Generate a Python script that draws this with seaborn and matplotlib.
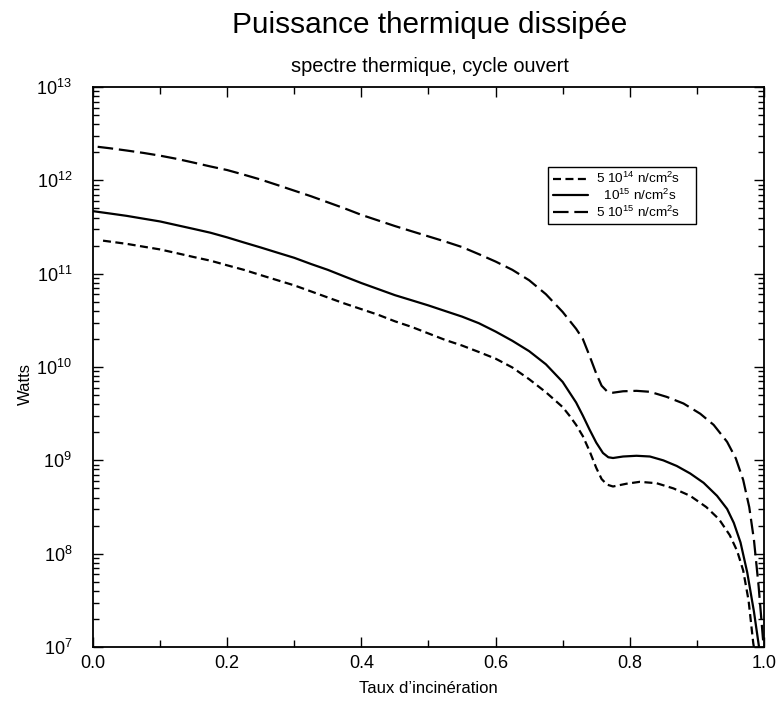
import pandas as pd
import matplotlib
matplotlib.use('Agg')
import matplotlib.pyplot as plt
import matplotlib.ticker as mticker
import seaborn as sns

# Data (Watts vs burn-up fraction)
x_5e14 = [0.015, 0.05, 0.075, 0.10, 0.125, 0.15, 0.175, 0.20, 0.225, 0.25,
          0.275, 0.30, 0.325, 0.35, 0.375, 0.40, 0.425, 0.45, 0.475, 0.50,
          0.525, 0.55, 0.575, 0.60, 0.625, 0.65, 0.675, 0.70, 0.71, 0.72,
          0.73, 0.74, 0.75, 0.758, 0.766, 0.775, 0.795, 0.815, 0.84, 0.865,
          0.89, 0.914, 0.933, 0.949, 0.96, 0.969, 0.977, 0.984, 0.986]
p_5e14 = [2.26e11, 2.09e11, 1.95e11, 1.82e11, 1.66e11, 1.51e11, 1.38e11,
          1.23e11, 1.10e11, 9.66e10, 8.51e10, 7.50e10, 6.46e10, 5.56e10,
          4.79e10, 4.17e10, 3.63e10, 3.09e10, 2.69e10, 2.29e10, 1.95e10,
          1.70e10, 1.45e10, 1.23e10, 9.89e9, 7.41e9, 5.37e9, 3.72e9, 3.02e9,
          2.40e9, 1.82e9, 1.26e9, 8.32e8, 6.31e8, 5.50e8, 5.25e8, 5.62e8,
          5.89e8, 5.69e8, 5.01e8, 4.17e8, 3.16e8, 2.34e8, 1.58e8, 1.07e8,
          6.61e7, 3.16e7, 1.10e7, 9.0e6]

x_1e15 = [0.0, 0.025, 0.05, 0.075, 0.10, 0.125, 0.15, 0.175, 0.20, 0.225,
          0.25, 0.275, 0.30, 0.325, 0.35, 0.375, 0.40, 0.425, 0.45, 0.475,
          0.50, 0.525, 0.55, 0.575, 0.60, 0.625, 0.65, 0.675, 0.70, 0.71,
          0.72, 0.73, 0.74, 0.75, 0.76, 0.768, 0.775, 0.79, 0.81, 0.83, 0.85,
          0.87, 0.89, 0.91, 0.93, 0.945, 0.955, 0.965, 0.975, 0.985, 0.993]
p_1e15 = [4.68e11, 4.42e11, 4.17e11, 3.89e11, 3.63e11, 3.31e11, 3.02e11,
          2.75e11, 2.45e11, 2.16e11, 1.91e11, 1.68e11, 1.48e11, 1.27e11,
          1.10e11, 9.33e10, 7.94e10, 6.84e10, 5.89e10, 5.19e10, 4.57e10,
          3.98e10, 3.47e10, 2.95e10, 2.40e10, 1.91e10, 1.48e10, 1.07e10,
          6.92e9, 5.37e9, 4.17e9, 3.02e9, 2.14e9, 1.55e9, 1.20e9, 1.08e9,
          1.06e9, 1.10e9, 1.12e9, 1.10e9, 1.0e9, 8.71e8, 7.24e8, 5.75e8,
          4.17e8, 3.02e8, 2.14e8, 1.32e8, 6.31e7, 2.40e7, 9.55e6]

x_5e15 = [0.007, 0.025, 0.05, 0.075, 0.10, 0.125, 0.15, 0.175, 0.20, 0.225,
          0.25, 0.275, 0.30, 0.325, 0.35, 0.375, 0.40, 0.425, 0.45, 0.475,
          0.50, 0.525, 0.55, 0.575, 0.60, 0.625, 0.65, 0.675, 0.70, 0.71,
          0.72, 0.73, 0.74, 0.75, 0.758, 0.766, 0.775, 0.79, 0.81, 0.83,
          0.855, 0.88, 0.905, 0.925, 0.945, 0.958, 0.969, 0.978, 0.985,
          0.992, 0.999, 1.0]
p_5e15 = [2.29e12, 2.21e12, 2.09e12, 1.97e12, 1.84e12, 1.70e12, 1.55e12,
          1.41e12, 1.29e12, 1.15e12, 1.02e12, 8.91e11, 7.76e11, 6.76e11,
          5.82e11, 5.01e11, 4.27e11, 3.72e11, 3.24e11, 2.85e11, 2.51e11,
          2.21e11, 1.93e11, 1.62e11, 1.35e11, 1.10e11, 8.51e10, 6.03e10,
          3.89e10, 3.16e10, 2.57e10, 2.00e10, 1.32e10, 8.51e9, 6.31e9, 5.50e9,
          5.31e9, 5.50e9, 5.56e9, 5.43e9, 4.79e9, 4.07e9, 3.16e9, 2.40e9,
          1.58e9, 1.05e9, 6.17e8, 3.16e8, 1.41e8, 4.47e7, 1.10e7, 9.0e6]

labels = [r'5 10$^{14}$ n/cm$^{2}$s    ', r'  10$^{15}$ n/cm$^{2}$s',
          r'5 10$^{15}$ n/cm$^{2}$s']

df = pd.concat([
    pd.DataFrame({'x': x_5e14, 'P': p_5e14, 'flux': labels[0]}),
    pd.DataFrame({'x': x_1e15, 'P': p_1e15, 'flux': labels[1]}),
    pd.DataFrame({'x': x_5e15, 'P': p_5e15, 'flux': labels[2]}),
], ignore_index=True)

sns.set_style('ticks')
plt.rcParams['font.family'] = ['Liberation Sans', 'DejaVu Sans']
plt.rcParams['mathtext.fontset'] = 'custom'
plt.rcParams['mathtext.rm'] = 'Liberation Sans'
plt.rcParams['mathtext.it'] = 'Liberation Sans:italic'
for key in ['text.color', 'axes.labelcolor', 'xtick.color', 'ytick.color']:
    plt.rcParams[key] = 'black'

fig = plt.figure(figsize=(7.78, 7.02), dpi=100)
ax = fig.add_axes([0.1195, 0.0783, 0.8625, 0.7977])

dash_map = {labels[0]: (3.6, 2.0), labels[1]: '', labels[2]: (7.0, 2.6)}
sns.lineplot(data=df, x='x', y='P', style='flux', style_order=labels,
             dashes=dash_map, color='black', linewidth=1.6, estimator=None,
             sort=False, ax=ax)

ax.set_yscale('log')
ax.set_xlim(0, 1)
ax.set_ylim(1e7, 1e13)
ax.xaxis.set_major_locator(mticker.MultipleLocator(0.2))
ax.xaxis.set_minor_locator(mticker.MultipleLocator(0.1))
ax.xaxis.set_major_formatter(mticker.FormatStrFormatter('%.1f'))
ax.yaxis.set_major_locator(mticker.LogLocator(base=10, numticks=10))
ax.yaxis.set_minor_locator(mticker.LogLocator(base=10, subs=range(2, 10), numticks=100))
ax.yaxis.set_minor_formatter(mticker.NullFormatter())
ax.tick_params(which='both', direction='in', top=True, right=True, labelsize=13,
               color='black', labelcolor='black')
ax.tick_params(which='major', length=7, width=1)
ax.tick_params(which='minor', length=4, width=1)
ax.tick_params(axis='x', which='minor', length=5)
ax.tick_params(axis='x', which='major', pad=6)
ax.tick_params(axis='y', which='major', pad=15)
for s in ax.spines.values():
    s.set_linewidth(1.3)
    s.set_color('black')

ax.set_xlabel('Taux d’incinération', fontsize=12, color='black')
ax.set_ylabel('Watts', fontsize=12, color='black')
ax.xaxis.set_label_coords(0.5, -0.061)
ax.yaxis.set_label_coords(-0.09, 0.47)

leg = ax.legend(loc='upper left', bbox_to_anchor=(0.678, 0.858), fontsize=9.7,
                frameon=True, fancybox=False, framealpha=1, edgecolor='black',
                handlelength=2.6, borderpad=0.35, labelspacing=0.1,
                handletextpad=0.6, borderaxespad=0)
leg.get_frame().set_linewidth(1.0)

fig.text(0.552, 0.964, 'Puissance thermique dissipée', ha='center', va='center',
         fontsize=21.4, color='black')
fig.text(0.552, 0.905, 'spectre thermique, cycle ouvert', ha='center',
         va='center', fontsize=14.4, color='black')

plt.savefig('out.png', dpi=100)
